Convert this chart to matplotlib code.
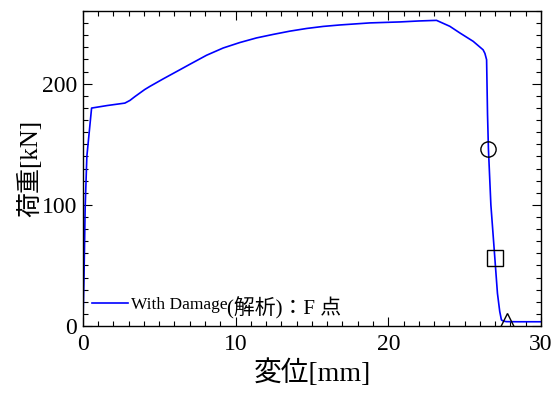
import numpy as np
import matplotlib.pyplot as plt
from matplotlib.ticker import MultipleLocator
from matplotlib.lines import Line2D

plt.rcParams['font.family'] = ['Liberation Serif', 'Noto Sans CJK JP']

# load-displacement curve
disp = [0, 0.07, 0.15, 0.26, 0.57, 1.6, 2.75, 3.08, 3.4, 3.73, 4.05, 4.39,
        5.26, 6.35, 7.0, 8.1, 9.19, 10.28, 11.37, 12.46, 13.56, 14.65, 15.74,
        16.83, 18.8, 20.76, 22.0, 23.16, 24.03, 24.69, 25.56, 26.21, 26.33,
        26.44, 26.5, 26.56, 26.72, 26.98, 27.15, 27.3, 27.41, 27.55, 27.74,
        28.5, 30.0]
load = [0, 38, 98, 140, 179.9, 182, 184, 186.2, 189.3, 192.3, 195.2, 197.8,
        204, 211.5, 216, 223.5, 229.5, 234, 237.8, 240.7, 243.4, 245.6,
        247.3, 248.5, 250.2, 251, 251.8, 252.3, 247.4, 241.9, 235, 228, 225,
        219.8, 175, 146, 100, 56, 27, 12, 5, 4, 3.6, 3.5, 3.5]

# characteristic points
circ_pt = (26.54, 146.3)
sq_pt = (26.98, 55.8)
tri_pt = (27.8, 4.5)

fig = plt.figure(figsize=(5.6, 3.94), dpi=100)
ax = fig.add_axes([0.148, 0.1726, 0.818, 0.7994])

ax.plot(disp, load, color="#0000ff", lw=1.2)
ax.plot(*circ_pt, "o", ms=11, mfc="none", mec="k", mew=1)
ax.plot(*sq_pt, "s", ms=11, mfc="none", mec="k", mew=1)
ax.plot(*tri_pt, "^", ms=12, mfc="none", mec="k", mew=1)

ax.set_xlim(0, 30)
ax.set_ylim(0, 260)
ax.xaxis.set_major_locator(MultipleLocator(10))
ax.xaxis.set_minor_locator(MultipleLocator(1))
ax.yaxis.set_major_locator(MultipleLocator(100))
ax.yaxis.set_minor_locator(MultipleLocator(10))
ax.tick_params(which="both", direction="in", top=True, right=True, labelsize=17)
ax.tick_params(which="major", length=6.5, width=0.8)
ax.tick_params(axis="x", which="major", pad=6)
ax.tick_params(axis="y", which="major", pad=4)
ax.tick_params(which="minor", length=3.4, width=0.8)
for s in ax.spines.values():
    s.set_linewidth(1)

ax.set_xlabel("変位[mm]", fontsize=20, labelpad=3)
ax.set_ylabel("荷重[kN]", fontsize=18, labelpad=0)

h = Line2D([], [], color="#0000ff", lw=1.2)
ax.legend([h], ["With Damage"], loc="lower left", bbox_to_anchor=(0.0, 0.015),
          frameon=False, fontsize=12.5, handlelength=2.1, handletextpad=0.15,
          borderaxespad=0.3, borderpad=0.2)
ax.text(0.314, 0.035, "(解析)：F 点", transform=ax.transAxes, fontsize=15,
        ha="left", va="baseline")

plt.savefig("out.png", dpi=100)
